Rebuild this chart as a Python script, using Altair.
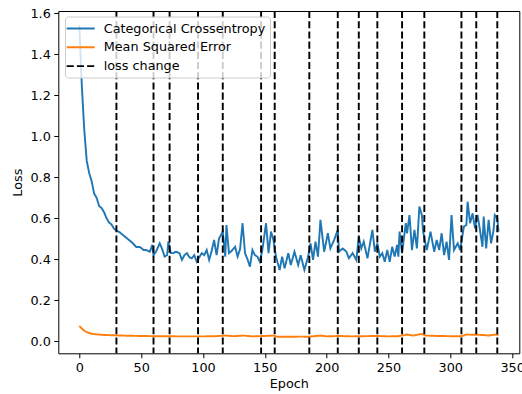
import altair as alt
import pandas as pd

# ---- data ----
ce_epoch = [0, 2, 4, 6, 8, 10, 12, 14, 16, 18, 20, 22, 24, 26, 28, 30, 33, 35, 37, 41, 43, 46, 49,
            52, 54, 57, 59, 60, 62, 65, 67, 69, 71, 72, 74, 76, 78, 81, 83, 85, 87, 89, 91, 93, 95,
            97, 99, 101, 103, 105, 107, 109, 111, 113, 116, 118, 119, 121, 123, 126, 128, 130, 132,
            134, 136, 138, 140, 142, 144, 146, 148, 151, 153, 155, 157, 159, 162, 164, 166, 169, 171,
            174, 177, 179, 182, 185, 187, 189, 191, 193, 195, 198, 201, 203, 206, 209, 210, 213, 216,
            218, 221, 224, 226, 228, 230, 233, 237, 239, 241, 243, 245, 247, 249, 251, 253, 255, 257,
            258, 259, 261, 264, 265, 267, 269, 271, 273, 275, 277, 278, 281, 284, 287, 289, 291, 293,
            295, 297, 299, 301, 303, 306, 308, 309, 311, 313, 314, 316, 318, 320, 322, 324, 326, 327,
            329, 331, 333, 335, 336, 338, 339]
ce_loss = [1.54, 1.25, 1.03, 0.88, 0.82, 0.78, 0.72, 0.70, 0.66, 0.65, 0.63, 0.60, 0.58, 0.57, 0.55,
           0.54, 0.53, 0.52, 0.51, 0.49, 0.48, 0.46, 0.46, 0.445, 0.445, 0.437, 0.47, 0.42, 0.437,
           0.478, 0.45, 0.413, 0.42, 0.486, 0.43, 0.43, 0.437, 0.43, 0.397, 0.42, 0.43, 0.41, 0.405,
           0.42, 0.388, 0.41, 0.43, 0.42, 0.445, 0.397, 0.44, 0.494, 0.42, 0.502, 0.535, 0.413, 0.567,
           0.43, 0.44, 0.461, 0.413, 0.45, 0.576, 0.43, 0.40, 0.364, 0.445, 0.42, 0.413, 0.388, 0.445,
           0.576, 0.43, 0.535, 0.494, 0.413, 0.348, 0.413, 0.356, 0.43, 0.372, 0.437, 0.372, 0.42,
           0.348, 0.413, 0.478, 0.397, 0.486, 0.413, 0.592, 0.437, 0.527, 0.453, 0.494, 0.543, 0.437,
           0.453, 0.437, 0.405, 0.43, 0.397, 0.51, 0.453, 0.486, 0.405, 0.543, 0.437, 0.478, 0.413,
           0.43, 0.388, 0.445, 0.388, 0.461, 0.413, 0.47, 0.413, 0.535, 0.43, 0.576, 0.527, 0.616,
           0.445, 0.543, 0.453, 0.657, 0.616, 0.535, 0.445, 0.535, 0.437, 0.494, 0.445, 0.527, 0.42,
           0.486, 0.397, 0.616, 0.445, 0.478, 0.445, 0.486, 0.559, 0.567, 0.681, 0.576, 0.624, 0.551,
           0.616, 0.543, 0.461, 0.608, 0.453, 0.592, 0.478, 0.543, 0.616, 0.60, 0.535]

mse_epoch = [0, 2, 4, 6, 8, 10, 14, 20, 30, 40, 50, 60, 70, 80, 90, 100, 110, 118, 125, 133, 140,
             150, 157, 160, 170, 180, 185, 190, 195, 200, 210, 220, 230, 240, 250, 258, 265, 270,
             277, 280, 290, 300, 309, 313, 319, 326, 331, 336, 339]
mse_loss = [0.075, 0.062, 0.052, 0.045, 0.040, 0.037, 0.034, 0.031, 0.029, 0.027, 0.026, 0.025,
            0.025, 0.024, 0.024, 0.024, 0.025, 0.028, 0.025, 0.028, 0.024, 0.026, 0.028, 0.022,
            0.022, 0.023, 0.022, 0.025, 0.028, 0.024, 0.026, 0.024, 0.025, 0.026, 0.024, 0.025,
            0.033, 0.028, 0.036, 0.028, 0.026, 0.025, 0.025, 0.033, 0.032, 0.031, 0.028, 0.033, 0.031]

change_epochs = [30, 60, 73, 96, 116, 147, 158, 186, 209, 226, 241, 261, 279, 309, 321, 338]

series_names = ["Categorical Crossentropy", "Mean Squared Error", "loss change"]
series_colors = ["#1f77b4", "#ff7f0e", "#000000"]
series_dashes = [[1, 0], [1, 0], [7.1, 3.1]]
x_ticks = [0, 50, 100, 150, 200, 250, 300, 350]
y_ticks = [0.0, 0.2, 0.4, 0.6, 0.8, 1.0, 1.2, 1.4, 1.6]

df_lines = pd.concat([
    pd.DataFrame({"epoch": ce_epoch, "loss": ce_loss, "series": series_names[0]}),
    pd.DataFrame({"epoch": mse_epoch, "loss": mse_loss, "series": series_names[1]}),
], ignore_index=True)
df_rules = pd.DataFrame({"epoch": change_epochs, "series": series_names[2]})

FONT = "DejaVu Sans"
FS = 12.8
LW = 1.92

x_enc = alt.X("epoch:Q",
              scale=alt.Scale(domain=[-17.0, 355.8], nice=False, zero=False),
              axis=alt.Axis(values=x_ticks, title="Epoch", format="d"))
color_enc = alt.Color("series:N",
                      scale=alt.Scale(domain=series_names, range=series_colors),
                      legend=alt.Legend(title=None))
dash_enc = alt.StrokeDash("series:N",
                          scale=alt.Scale(domain=series_names, range=series_dashes),
                          legend=alt.Legend(title=None))

lines = alt.Chart(df_lines).mark_line(strokeWidth=LW).encode(
    x=x_enc,
    y=alt.Y("loss:Q",
            scale=alt.Scale(domain=[-0.0585, 1.611], nice=False, zero=False),
            axis=alt.Axis(values=y_ticks, format=".1f", title="Loss")),
    color=color_enc,
    strokeDash=dash_enc,
    detail="series:N",
)

rules = alt.Chart(df_rules).mark_rule(strokeWidth=LW).encode(
    x=x_enc,
    color=color_enc,
    strokeDash=dash_enc,
)

chart = alt.layer(lines, rules).properties(
    width=461, height=342.3,
    autosize=alt.AutoSizeParams(type="none"),
    padding={"left": 58.3, "top": 11, "right": 2.7, "bottom": 40.7},
).configure_view(
    stroke="#000000", strokeWidth=1.0
).configure_axis(
    domain=False,
    grid=False,
    ticks=True, tickColor="#000000", tickSize=4.5, tickWidth=1.0,
    labelFont=FONT, labelFontSize=FS, labelColor="#000000", labelPadding=3.5,
    titleFont=FONT, titleFontSize=FS, titleFontWeight="normal", titleColor="#000000",
).configure_axisX(
    titlePadding=3,
).configure_axisY(
    titlePadding=5,
).configure_legend(
    orient="none", legendX=6.7, legendY=5.5,
    fillColor="rgba(255,255,255,0.8)", strokeColor="#cccccc", cornerRadius=3,
    padding=4,
    symbolType="M-2,0L2,0", symbolSize=196, symbolStrokeWidth=LW, symbolOffset=3.7,
    labelFont=FONT, labelFontSize=FS, labelColor="#000000", labelOffset=15, labelLimit=400,
    rowPadding=3.8,
)

chart.save("out.html", embed_options={"renderer": "svg", "actions": False})
